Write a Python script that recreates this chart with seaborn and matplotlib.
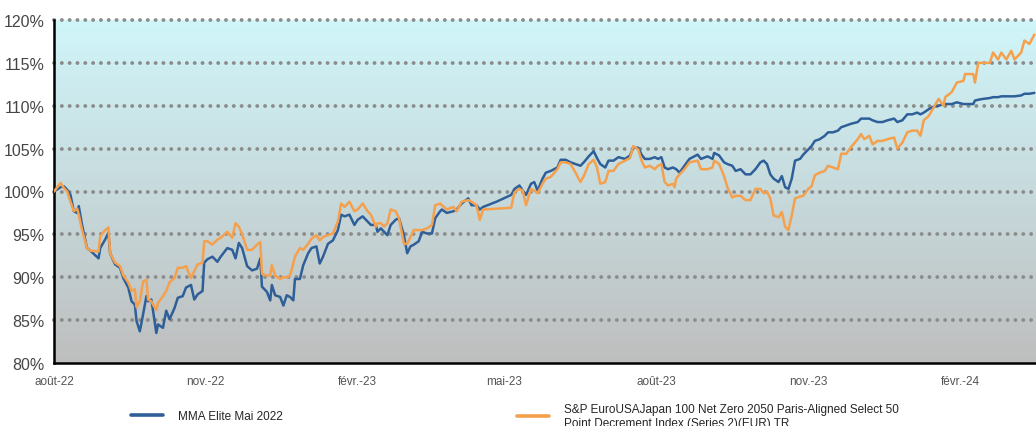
import numpy as np
import pandas as pd
import matplotlib
matplotlib.use("Agg")
import matplotlib.pyplot as plt
from matplotlib.lines import Line2D
from matplotlib import font_manager
import seaborn as sns

START = "2022-08-01"
END_DAY = 595

# days since START
day_offset = [
    0, 4, 6, 8, 10, 12, 14, 15, 17, 20, 22, 27, 28, 31, 33, 34, 37, 40, 42, 45,
    47, 49, 50, 52, 54, 56, 57, 59, 60, 62, 63, 66, 68, 70, 73, 75, 78, 80, 83, 85,
    87, 90, 91, 93, 96, 99, 101, 105, 108, 110, 112, 114, 117, 120, 123, 125, 126, 129, 131, 132,
    134, 137, 139, 141, 143, 145, 146, 149, 151, 154, 156, 159, 161, 163, 166, 169, 172, 174, 176, 179,
    182, 184, 187, 190, 192, 195, 196, 198, 200, 202, 204, 207, 209, 212, 214, 216, 218, 221, 223, 226,
    229, 231, 234, 235, 238, 242, 244, 247, 251, 253, 256, 258, 260, 268, 277, 279, 282, 284, 286, 289,
    291, 293, 296, 298, 301, 305, 307, 310, 313, 316, 319, 321, 324, 327, 329, 331, 334, 336, 339, 342,
    346, 349, 351, 354, 356, 358, 361, 364, 366, 368, 370, 372, 375, 376, 377, 379, 382, 385, 390, 392,
    396, 399, 400, 403, 406, 408, 411, 413, 416, 419, 422, 425, 428, 430, 432, 434, 436, 439, 441, 443,
    445, 447, 449, 452, 454, 457, 459, 461, 464, 467, 469, 472, 475, 477, 480, 483, 487, 489, 491, 494,
    496, 499, 502, 505, 509, 511, 514, 517, 520, 523, 525, 527, 530, 533, 536, 539, 540, 544, 547, 551,
    552, 557, 558, 560, 563, 567, 569, 572, 574, 577, 580, 582, 586, 588, 591, 594,
]

mma_elite = [
    100.0, 100.5, 100.6, 100.2, 99.6, 97.7, 97.5, 98.3, 96.1, 93.4, 93.1, 92.2, 93.4, 94.4, 95.2, 92.8, 91.5, 91.1, 89.9, 88.8,
    87.2, 86.8, 84.9, 83.7, 85.7, 87.8, 87.2, 87.4, 86.1, 83.5, 84.5, 84.1, 86.1, 85.1, 86.4, 87.6, 87.8, 88.8, 89.1, 87.4,
    88.0, 88.4, 91.7, 92.1, 92.4, 91.8, 92.4, 93.4, 93.2, 92.2, 94.0, 93.4, 91.3, 90.8, 91.0, 92.2, 88.9, 88.3, 87.3, 89.1,
    87.9, 87.7, 86.7, 87.9, 87.7, 87.3, 89.8, 89.8, 91.4, 92.8, 93.4, 93.6, 91.6, 92.4, 93.9, 94.3, 95.5, 97.3, 97.1, 97.3,
    96.1, 96.7, 97.1, 96.5, 96.1, 96.1, 95.3, 95.7, 95.3, 94.9, 96.1, 96.7, 96.9, 94.9, 92.8, 93.6, 93.8, 94.2, 95.3, 95.1,
    95.1, 96.9, 97.7, 97.9, 97.5, 97.7, 97.9, 98.6, 99.2, 98.4, 98.4, 97.9, 98.2, 98.8, 99.6, 100.3, 100.7, 100.1, 99.6, 100.9,
    101.1, 100.1, 101.5, 102.2, 102.4, 102.8, 103.7, 103.7, 103.4, 103.2, 103.0, 103.4, 104.1, 104.7, 103.9, 103.2, 102.8, 103.6, 103.6, 104.0,
    103.8, 104.2, 105.1, 105.1, 104.3, 103.8, 103.8, 104.0, 103.8, 104.0, 102.8, 102.6, 102.8, 102.7, 102.6, 102.2, 103.0, 103.8, 104.3, 103.8,
    104.1, 103.8, 104.5, 104.2, 103.4, 103.2, 103.0, 102.4, 102.6, 102.0, 102.0, 102.6, 103.4, 103.6, 103.2, 102.0, 101.5, 101.1, 101.8, 100.5,
    100.3, 101.5, 103.6, 103.8, 104.3, 104.9, 105.3, 105.9, 106.1, 106.5, 106.9, 106.9, 107.1, 107.5, 107.7, 107.9, 108.1, 108.5, 108.5, 108.5,
    108.3, 108.1, 108.1, 108.3, 108.5, 108.1, 108.3, 109.0, 109.0, 109.2, 109.0, 109.2, 109.6, 109.9, 110.0, 110.2, 110.2, 110.2, 110.4, 110.2,
    110.2, 110.2, 110.6, 110.7, 110.8, 110.9, 111.0, 111.0, 111.1, 111.1, 111.1, 111.1, 111.2, 111.4, 111.4, 111.5,
]

sp_paris_aligned = [
    100.0, 101.0, 100.4, 100.0, 98.8, 97.7, 98.0, 97.3, 95.5, 93.4, 93.1, 93.0, 94.8, 95.5, 95.8, 92.8, 91.7, 91.3, 90.2, 89.4,
    88.4, 88.6, 86.5, 87.2, 89.5, 89.7, 87.4, 87.2, 86.8, 86.2, 87.0, 87.8, 88.4, 89.4, 89.9, 91.1, 91.1, 91.3, 89.9, 90.7,
    91.5, 91.7, 94.2, 94.2, 93.8, 94.4, 94.6, 95.3, 94.6, 96.3, 95.9, 95.0, 93.2, 93.2, 93.8, 94.1, 90.4, 90.2, 90.2, 91.4,
    90.2, 89.8, 90.0, 90.0, 90.2, 91.6, 92.4, 93.4, 93.2, 93.9, 94.5, 94.9, 94.3, 94.7, 94.9, 95.1, 96.5, 98.6, 98.2, 98.8,
    97.7, 97.9, 98.6, 97.7, 97.3, 95.9, 96.3, 96.3, 95.9, 96.3, 97.9, 97.7, 96.9, 93.9, 93.9, 94.7, 95.5, 95.5, 95.5, 95.7,
    96.1, 98.4, 98.6, 98.4, 97.9, 98.2, 97.7, 98.8, 99.0, 98.8, 98.4, 96.7, 97.9, 98.0, 98.1, 99.9, 100.3, 100.1, 98.4, 100.3,
    100.1, 99.8, 100.9, 101.5, 101.7, 102.6, 103.4, 103.4, 103.2, 102.2, 101.1, 101.8, 103.2, 103.7, 102.8, 100.9, 101.1, 102.4, 102.4, 103.2,
    103.6, 103.9, 105.3, 104.9, 103.6, 102.8, 103.0, 102.6, 103.0, 103.2, 101.1, 100.7, 100.9, 100.5, 101.5, 102.0, 102.6, 103.4, 103.6, 102.6,
    102.6, 102.8, 103.6, 103.2, 101.8, 100.5, 99.3, 99.5, 99.5, 99.0, 99.0, 100.3, 100.3, 99.8, 100.0, 99.2, 97.2, 97.0, 97.6, 95.9,
    95.5, 97.2, 99.2, 99.4, 99.5, 100.3, 100.6, 101.9, 102.2, 102.4, 103.0, 102.8, 102.6, 104.4, 104.4, 105.2, 106.1, 106.7, 106.1, 106.5,
    105.5, 105.9, 105.9, 106.1, 106.3, 105.0, 105.7, 106.9, 107.1, 107.1, 106.5, 108.3, 108.8, 109.8, 110.8, 110.0, 111.0, 111.6, 112.7, 112.9,
    113.7, 113.7, 112.7, 115.0, 115.0, 115.0, 116.2, 115.4, 116.2, 115.4, 116.4, 115.4, 116.2, 117.6, 117.2, 118.3,
]

series_names = [
    "MMA Elite Mai 2022",
    "S&P EuroUSAJapan 100 Net Zero 2050 Paris-Aligned Select 50\nPoint Decrement Index (Series 2)(EUR) TR",
]
series_colors = ["#2F5F98", "#F5A04C"]

tick_dates = ["2022-08-01", "2022-11-01", "2023-02-01", "2023-05-01",
              "2023-08-01", "2023-11-01", "2024-02-01"]
tick_labels = ["août-22", "nov.-22", "févr.-23", "mai-23", "août-23", "nov.-23", "févr.-24"]
y_ticks = [80, 85, 90, 95, 100, 105, 110, 115, 120]

start = pd.Timestamp(START)
dates = start + pd.to_timedelta(day_offset, unit="D")
df = pd.DataFrame({"date": list(dates) * 2,
                   "value": mma_elite + sp_paris_aligned,
                   "series": [series_names[0]] * len(dates) + [series_names[1]] * len(dates)})

installed = {f.name for f in font_manager.fontManager.ttflist}
narrow = "Liberation Sans Narrow" if "Liberation Sans Narrow" in installed else "Liberation Sans"

sns.set_style("white")
plt.rcParams["font.family"] = ["Liberation Sans", "DejaVu Sans"]

fig = plt.figure(figsize=(10.36, 4.27), dpi=100)
ax = fig.add_axes([54 / 1036, 1 - 364 / 427, 1 - 54 / 1036, 343 / 427])

# background gradient: light cyan at top, grey at bottom
top = np.array([208, 246, 250]) / 255
bottom = np.array([190, 190, 190]) / 255
t = np.linspace(0, 1, 256)[:, None]
grad = (top * (1 - t) + bottom * t)[:, None, :]
ax.imshow(grad, extent=(0, 1, 0, 1), transform=ax.transAxes, aspect="auto", zorder=0)

for y in y_ticks[1:]:
    ax.axhline(y, color="#8C8C8C", lw=2.8, linestyle=(0, (0.01, 2.0)),
               dash_capstyle="round", zorder=1, clip_on=False)

sns.lineplot(data=df, x="date", y="value", hue="series", palette=series_colors,
             hue_order=series_names, linewidth=1.8, ax=ax, legend=False, zorder=3,
             estimator=None, sort=True)

ax.set_xlim(start, start + pd.Timedelta(days=END_DAY))
ax.set_ylim(80, 120)
ax.set_yticks(y_ticks)
ax.set_yticklabels([f"{v}%" for v in y_ticks], fontsize=11.5, color="#454545")
ax.set_xticks(pd.to_datetime(tick_dates))
ax.set_xticklabels(tick_labels, fontsize=8.5, color="#555555", family=narrow)
ax.tick_params(axis="both", length=0)
ax.tick_params(axis="y", pad=7)
ax.tick_params(axis="x", pad=9)
ax.set_xlabel("")
ax.set_ylabel("")
ax.grid(False)

for side in ["top", "right"]:
    ax.spines[side].set_visible(False)
ax.spines["left"].set_color("black")
ax.spines["left"].set_linewidth(1.8)
ax.spines["bottom"].set_color("black")
ax.spines["bottom"].set_linewidth(1.8)

handles = [Line2D([0], [0], color=c, lw=2.6) for c in series_colors]
legend_y = 1 - 417 / 427
fig.legend(handles[:1], series_names[:1], loc="center left", bbox_to_anchor=(120 / 1036, legend_y),
           frameon=False, prop={"family": narrow, "size": 8.5}, handlelength=2.7, handletextpad=1.35)
fig.legend(handles[1:], series_names[1:], loc="center left", bbox_to_anchor=(506 / 1036, legend_y),
           frameon=False, prop={"family": narrow, "size": 8.5}, handlelength=2.7, handletextpad=1.35)

fig.savefig("out.png", dpi=100)
